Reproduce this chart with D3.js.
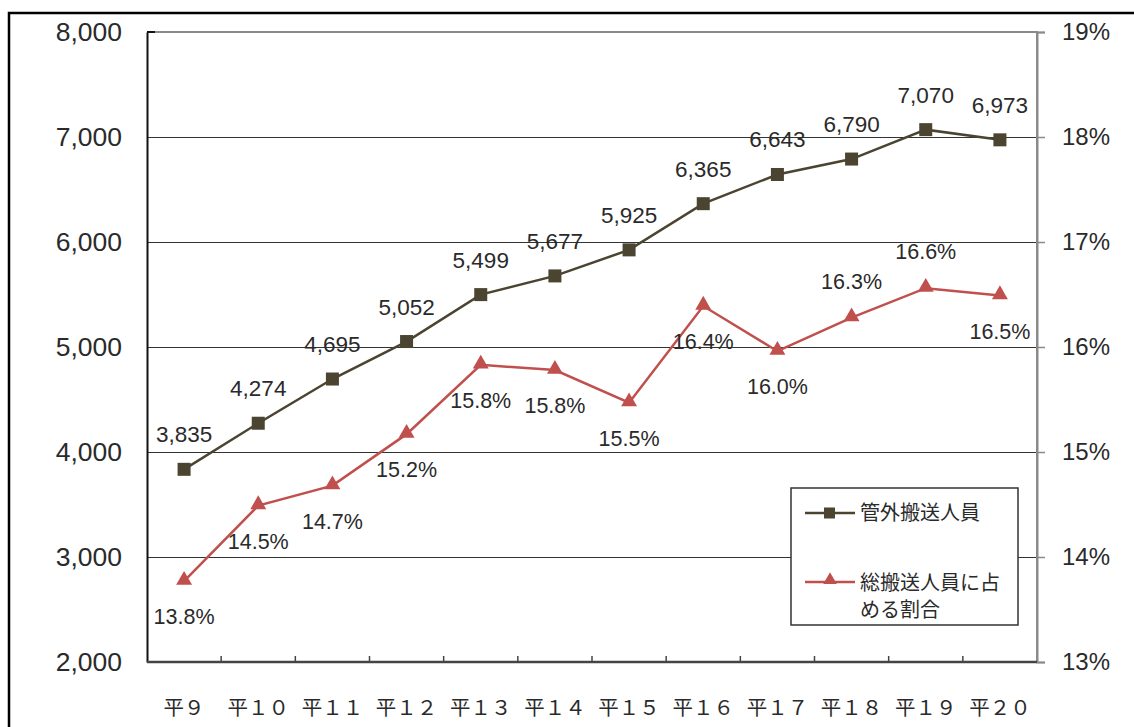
<!DOCTYPE html>
<html>
<head>
<meta charset="utf-8">
<script src="https://cdn.jsdelivr.net/npm/d3@7"></script>
<style>
  body { margin: 0; background: #fff; }
  svg { display: block; }
  .num { font-family: "Liberation Sans", Arial, sans-serif; fill: #2a2a2a; }
  .jp { font-family: "Noto Sans CJK JP", sans-serif; fill: #2a2a2a; }
</style>
</head>
<body>
<div id="chart"></div>
<script>
// data
var years = ["平９", "平１０", "平１１", "平１２", "平１３", "平１４", "平１５", "平１６", "平１７", "平１８", "平１９", "平２０"];
var transported = [3835, 4274, 4695, 5052, 5499, 5677, 5925, 6365, 6643, 6790, 7070, 6973];
var share = [13.77, 14.49, 14.68, 15.17, 15.83, 15.78, 15.47, 16.39, 15.96, 16.28, 16.56, 16.49];
// which share labels sit above the marker
var shareAbove = [false, false, false, false, false, false, false, false, false, true, true, false];
var leftTicks = [2000, 3000, 4000, 5000, 6000, 7000, 8000];
var rightTicks = [13, 14, 15, 16, 17, 18, 19];
var seriesNames = ["管外搬送人員", ["総搬送人員に占", "める割合"]];

var width = 1134, height = 727;
var plot = {left: 147, right: 1037, top: 32, bottom: 662};
var col1 = "#4b4430", col2 = "#c0504d";

var svg = d3.select("#chart").append("svg")
    .attr("width", width)
    .attr("height", height);

// outer frame (runs off the right and bottom edges)
svg.append("path")
    .attr("d", "M9," + (height + 5) + "V13H" + (width + 5))
    .attr("fill", "none")
    .attr("stroke", "#000")
    .attr("stroke-width", 2.5);

var x = d3.scaleBand().domain(years).range([plot.left, plot.right]).padding(0);
var y = d3.scaleLinear().domain([2000, 8000]).range([plot.bottom, plot.top]);
var y2 = d3.scaleLinear().domain([13, 19]).range([plot.bottom, plot.top]);
var cx = function(d, i) { return x(years[i]) + x.bandwidth() / 2; };

// gridlines
svg.append("g").selectAll("line")
    .data(leftTicks.filter(function(d) { return d > 2000 && d < 8000; }))
    .enter().append("line")
    .attr("x1", plot.left).attr("x2", plot.right)
    .attr("y1", function(d) { return y(d) + 0.5; })
    .attr("y2", function(d) { return y(d) + 0.5; })
    .attr("stroke", "#333")
    .attr("stroke-width", 1.2);

// top and right frame of the plot (grey)
svg.append("path")
    .attr("d", "M" + plot.left + "," + plot.top + "H" + plot.right + "V" + plot.bottom)
    .attr("fill", "none")
    .attr("stroke", "#8a8a8a")
    .attr("stroke-width", 2);

// left axis
var leftAxis = d3.axisLeft(y).tickValues(leftTicks).tickFormat(d3.format(",")).tickSize(0).tickPadding(25);
var gl = svg.append("g").attr("transform", "translate(" + plot.left + ",0)").call(leftAxis);
gl.select(".domain").attr("stroke", "#111").attr("stroke-width", 2);
gl.selectAll("text").attr("class", "num").style("font-size", "26.5px").attr("fill", "#2a2a2a");
svg.append("line")
    .attr("x1", plot.left).attr("x2", plot.left + 8)
    .attr("y1", plot.top).attr("y2", plot.top)
    .attr("stroke", "#111").attr("stroke-width", 2);

// right axis
var rightAxis = d3.axisRight(y2).tickValues(rightTicks).tickFormat(function(d) { return d + "%"; }).tickSize(8).tickPadding(17);
var gr = svg.append("g").attr("transform", "translate(" + plot.right + ",0)").call(rightAxis);
gr.select(".domain").attr("stroke", "#8a8a8a").attr("stroke-width", 2);
gr.selectAll(".tick line").attr("stroke", "#8a8a8a").attr("stroke-width", 1.5);
gr.selectAll("text").attr("class", "num").style("font-size", "24px").attr("fill", "#2a2a2a");

// bottom axis: labels at band centres, ticks at band edges pointing up
var bottomAxis = d3.axisBottom(x).tickSize(0).tickPadding(38);
var gb = svg.append("g").attr("transform", "translate(0," + plot.bottom + ")").call(bottomAxis);
gb.select(".domain").remove();
gb.selectAll("text").attr("class", "jp").style("font-size", "20.5px").attr("fill", "#2a2a2a");
svg.append("g").selectAll("line")
    .data(years.slice(1))
    .enter().append("line")
    .attr("x1", function(d) { return x(d); })
    .attr("x2", function(d) { return x(d); })
    .attr("y1", plot.bottom).attr("y2", plot.bottom - 6)
    .attr("stroke", "#444").attr("stroke-width", 1.5);
svg.append("line")
    .attr("x1", plot.left).attr("x2", plot.right)
    .attr("y1", plot.bottom).attr("y2", plot.bottom)
    .attr("stroke", "#444").attr("stroke-width", 2.5);

// series 2: share (red, triangles)
var line2 = d3.line().x(cx).y(function(d) { return y2(d); });
svg.append("path")
    .datum(share)
    .attr("d", line2)
    .attr("fill", "none")
    .attr("stroke", col2)
    .attr("stroke-width", 2.5);
var tri = d3.symbol().type(d3.symbolTriangle).size(110);
svg.append("g").selectAll("path")
    .data(share)
    .enter().append("path")
    .attr("d", tri)
    .attr("transform", function(d, i) { return "translate(" + cx(d, i) + "," + (y2(d) - 1) + ")"; })
    .attr("fill", col2);

// series 1: transported (dark olive, squares)
var line1 = d3.line().x(cx).y(function(d) { return y(d); });
svg.append("path")
    .datum(transported)
    .attr("d", line1)
    .attr("fill", "none")
    .attr("stroke", col1)
    .attr("stroke-width", 2.5);
svg.append("g").selectAll("rect")
    .data(transported)
    .enter().append("rect")
    .attr("x", function(d, i) { return cx(d, i) - 6.5; })
    .attr("y", function(d) { return y(d) - 6.5; })
    .attr("width", 13).attr("height", 13)
    .attr("fill", col1);

// data labels
svg.append("g").selectAll("text")
    .data(transported)
    .enter().append("text")
    .attr("class", "num")
    .attr("x", cx)
    .attr("y", function(d) { return y(d) - 27; })
    .attr("text-anchor", "middle")
    .style("font-size", "22.5px")
    .text(d3.format(","));

svg.append("g").selectAll("text")
    .data(share)
    .enter().append("text")
    .attr("class", "num")
    .attr("x", cx)
    .attr("y", function(d, i) { return shareAbove[i] ? y2(d) - 29 : y2(d) + 43; })
    .attr("text-anchor", "middle")
    .style("font-size", "21.5px")
    .text(function(d) { return d.toFixed(1) + "%"; });

// legend
var lg = svg.append("g").attr("transform", "translate(791,488)");
lg.append("rect")
    .attr("x", 0).attr("y", 0)
    .attr("width", 227).attr("height", 137)
    .attr("fill", "#fff")
    .attr("stroke", "#333")
    .attr("stroke-width", 1.5);
lg.append("line").attr("x1", 14).attr("x2", 64).attr("y1", 25).attr("y2", 25)
    .attr("stroke", col1).attr("stroke-width", 2.5);
lg.append("rect").attr("x", 33).attr("y", 19.5).attr("width", 11).attr("height", 11).attr("fill", col1);
lg.append("text").attr("class", "jp").attr("x", 69).attr("y", 32)
    .style("font-size", "20px").text(seriesNames[0]);
lg.append("line").attr("x1", 14).attr("x2", 64).attr("y1", 94).attr("y2", 94)
    .attr("stroke", col2).attr("stroke-width", 2.5);
lg.append("path").attr("d", d3.symbol().type(d3.symbolTriangle).size(80))
    .attr("transform", "translate(39,92)").attr("fill", col2);
lg.append("text").attr("class", "jp").attr("x", 69).attr("y", 102)
    .style("font-size", "20px").text(seriesNames[1][0]);
lg.append("text").attr("class", "jp").attr("x", 69).attr("y", 129)
    .style("font-size", "20px").text(seriesNames[1][1]);
</script>
</body>
</html>
